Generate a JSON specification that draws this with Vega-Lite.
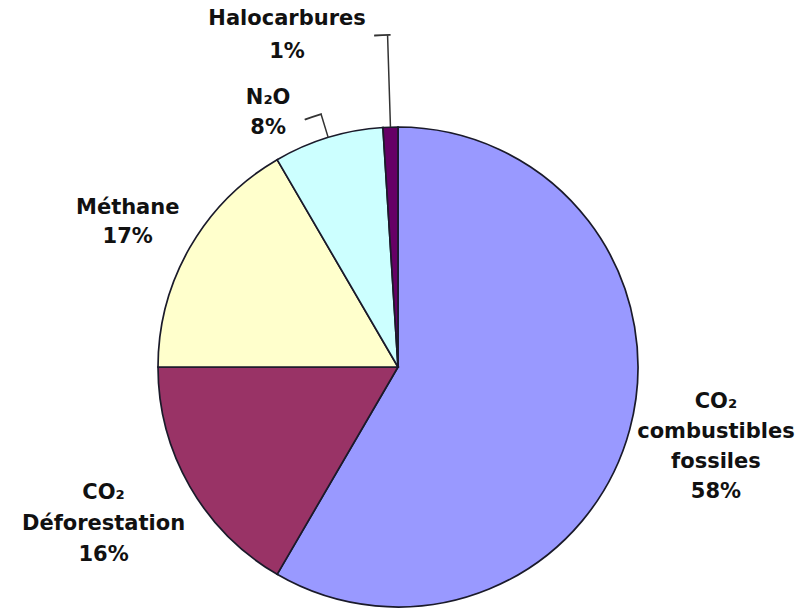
{
  "$schema": "https://vega.github.io/schema/vega-lite/v6.json",
  "autosize": {"type": "none"},
  "width": 796,
  "height": 482,
  "padding": {"left": 0, "top": 126, "right": 16, "bottom": 0},
  "background": "white",
  "view": {"stroke": null},
  "data": {
    "values": [
      {"gaz": "CO₂ combustibles fossiles", "part": 58.4, "rang": 1, "etiquette": ["CO₂", "combustibles", "fossiles", "58%"]},
      {"gaz": "CO₂ Déforestation", "part": 16.6, "rang": 2, "etiquette": ["CO₂", "Déforestation", "16%"]},
      {"gaz": "Méthane", "part": 16.6, "rang": 3, "etiquette": ["Méthane", "17%"]},
      {"gaz": "N₂O", "part": 7.4, "rang": 4, "etiquette": ["N₂O", "8%"]},
      {"gaz": "Halocarbures", "part": 1.0, "rang": 5, "etiquette": ["Halocarbures", "1%"]}
    ]
  },
  "encoding": {
    "theta": {"field": "part", "type": "quantitative", "stack": true},
    "order": {"field": "rang", "type": "quantitative"}
  },
  "layer": [
    {
      "mark": {"type": "arc", "radius": 240, "stroke": "#1a1a2a", "strokeWidth": 1.7},
      "encoding": {
        "color": {
          "field": "gaz",
          "type": "nominal",
          "scale": {
            "domain": ["CO₂ combustibles fossiles", "CO₂ Déforestation", "Méthane", "N₂O", "Halocarbures"],
            "range": ["#9999FF", "#993366", "#FFFFCC", "#CCFFFF", "#660066"]
          },
          "legend": null
        }
      }
    },
    {
      "mark": {"type": "arc", "radius": 332, "radius2": 240, "padAngle": 3, "fillOpacity": 0, "stroke": "#333333", "strokeWidth": 1.5},
      "encoding": {
        "strokeOpacity": {"condition": {"test": "datum.gaz === 'Halocarbures'", "value": 1}, "value": 0}
      }
    },
    {
      "mark": {"type": "arc", "radius": 264, "radius2": 240, "padAngle": 3, "fillOpacity": 0, "stroke": "#333333", "strokeWidth": 1.5},
      "encoding": {
        "strokeOpacity": {"condition": {"test": "datum.gaz === 'N₂O'", "value": 1}, "value": 0}
      }
    },
    {
      "mark": {"type": "arc", "radius": 332.5, "radius2": 332, "padAngle": 0.0123, "thetaOffset": -0.0157, "fillOpacity": 0, "stroke": "#333333", "strokeWidth": 1.4},
      "encoding": {
        "strokeOpacity": {"condition": {"test": "datum.gaz === 'Halocarbures'", "value": 1}, "value": 0}
      }
    },
    {
      "mark": {"type": "arc", "radius": 264.5, "radius2": 264, "padAngle": 0.2833, "thetaOffset": -0.0311, "fillOpacity": 0, "stroke": "#333333", "strokeWidth": 1.4},
      "encoding": {
        "strokeOpacity": {"condition": {"test": "datum.gaz === 'N₂O'", "value": 1}, "value": 0}
      }
    },
    {
      "mark": {"type": "text", "radius": 320, "dx": 9, "dy": -48, "font": "DejaVu Sans", "fontWeight": "bold", "fontSize": 21, "lineHeight": 30, "align": "center", "baseline": "middle", "color": "#111111"},
      "encoding": {
        "text": {"condition": {"test": "datum.gaz === 'CO₂ combustibles fossiles'", "field": "etiquette"}, "value": ""}
      }
    },
    {
      "mark": {"type": "text", "radius": 320, "dx": -17, "dy": -33, "font": "DejaVu Sans", "fontWeight": "bold", "fontSize": 21, "lineHeight": 31, "align": "center", "baseline": "middle", "color": "#111111"},
      "encoding": {
        "text": {"condition": {"test": "datum.gaz === 'CO₂ Déforestation'", "field": "etiquette"}, "value": ""}
      }
    },
    {
      "mark": {"type": "text", "radius": 314, "dx": 2, "dy": -3, "font": "DejaVu Sans", "fontWeight": "bold", "fontSize": 21, "lineHeight": 29, "align": "center", "baseline": "middle", "color": "#111111"},
      "encoding": {
        "text": {"condition": {"test": "datum.gaz === 'Méthane'", "field": "etiquette"}, "value": ""}
      }
    },
    {
      "mark": {"type": "text", "radius": 295, "dx": -44, "dy": 13, "font": "DejaVu Sans", "fontWeight": "bold", "fontSize": 21, "lineHeight": 30, "align": "center", "baseline": "middle", "color": "#111111"},
      "encoding": {
        "text": {"condition": {"test": "datum.gaz === 'N₂O'", "field": "etiquette"}, "value": ""}
      }
    },
    {
      "mark": {"type": "text", "radius": 348, "dx": -100, "font": "DejaVu Sans", "fontWeight": "bold", "fontSize": 21, "lineHeight": 33, "align": "center", "baseline": "middle", "color": "#111111"},
      "encoding": {
        "text": {"condition": {"test": "datum.gaz === 'Halocarbures'", "field": "etiquette"}, "value": ""}
      }
    }
  ]
}
